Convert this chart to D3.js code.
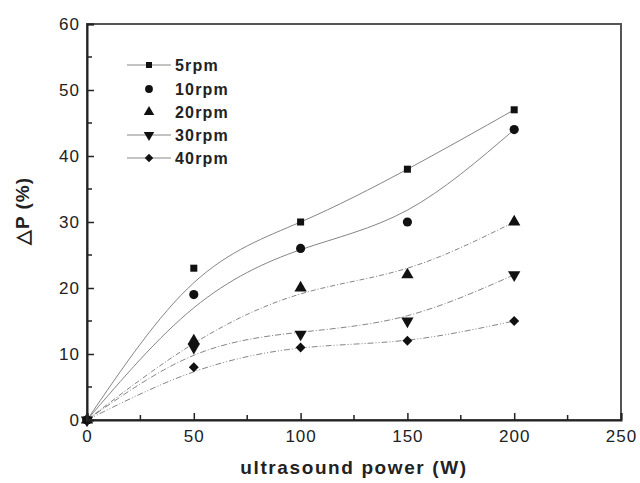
<!DOCTYPE html>
<html>
<head>
<meta charset="utf-8">
<script src="https://cdn.jsdelivr.net/npm/d3@7"></script>
<style>
  body { margin: 0; background: #fff; }
  svg { display: block; font-family: "Liberation Sans", Arial, sans-serif; }
</style>
</head>
<body>
<svg width="640" height="483"></svg>
<script>
// measured data
var power = [0, 50, 100, 150, 200];
var seriesNames = ["5rpm", "10rpm", "20rpm", "30rpm", "40rpm"];
var rpm5 = [0, 23, 30, 38, 47];
var rpm10 = [0, 19, 26, 30, 44];
var rpm20 = [0, 12, 20, 22, 30];
var rpm30 = [0, 11, 13, 15, 22];
var rpm40 = [0, 8, 11, 12, 15];
// fitted curves
var fit5 = [0, 20.8, 30, 38, 47];
var fit10 = [0, 17, 25.8, 31.8, 44];
var fit20 = [0, 11.6, 19.1, 23, 30];
var fit30 = [0, 9.8, 13.3, 15.8, 22];
var fit40 = [0, 7.3, 10.9, 12.1, 15];
var xTicks = [0, 50, 100, 150, 200, 250];
var yTicks = [0, 10, 20, 30, 40, 50, 60];

var svg = d3.select("svg");
var pLeft = 87, pTop = 24, pRight = 621, pBottom = 420;

var x = d3.scaleLinear().domain([0, 250]).range([pLeft, pRight]);
var y = d3.scaleLinear().domain([0, 60]).range([pBottom, pTop]);

var points = [rpm5, rpm10, rpm20, rpm30, rpm40];
var fits = [fit5, fit10, fit20, fit30, fit40];
var dashes = [null, null, "5,2,1,2", "6,2,1,2", "6,2,1,2,1,2"];
var legendLine = [true, false, false, true, true];

function marker(i, size) {
  var g = d3.symbol();
  if (i == 0) return { path: g.type(d3.symbolSquare).size(size * 0.75)(), rot: 0 };
  if (i == 1) return { path: g.type(d3.symbolCircle).size(size)(), rot: 0 };
  if (i == 2) return { path: g.type(d3.symbolTriangle).size(size)(), rot: 0 };
  if (i == 3) return { path: g.type(d3.symbolTriangle).size(size)(), rot: 180 };
  return { path: g.type(d3.symbolSquare).size(size * 0.75)(), rot: 45 };
}

// fitted curves
var line = d3.line()
  .x(function(d) { return x(d[0]); })
  .y(function(d) { return y(d[1]); })
  .curve(d3.curveNatural);

fits.forEach(function(f, i) {
  svg.append("path")
    .attr("d", line(power.map(function(p, j) { return [p, f[j]]; })))
    .attr("fill", "none")
    .attr("stroke", "#777")
    .attr("stroke-width", 0.9)
    .attr("stroke-dasharray", dashes[i]);
});

// markers
points.forEach(function(s, i) {
  var m = marker(i, 66);
  svg.append("g").selectAll("path").data(s).enter().append("path")
    .attr("d", m.path)
    .attr("transform", function(d, j) {
      return "translate(" + x(power[j]) + "," + y(d) + ") rotate(" + m.rot + ")";
    })
    .attr("fill", "#111");
});

// frame
svg.append("rect")
  .attr("x", pLeft).attr("y", pTop)
  .attr("width", pRight - pLeft).attr("height", pBottom - pTop)
  .attr("fill", "none").attr("stroke", "#555").attr("stroke-width", 2);

// axes with inward ticks
var xAxis = d3.axisBottom(x).tickValues(xTicks).tickSize(-7).tickPadding(10);
var gx = svg.append("g").attr("transform", "translate(0," + pBottom + ")").call(xAxis);
var yAxis = d3.axisLeft(y).tickValues(yTicks).tickSize(-7).tickPadding(7);
var gy = svg.append("g").attr("transform", "translate(" + pLeft + ",0)").call(yAxis);

[gx, gy].forEach(function(g) {
  g.select(".domain").attr("stroke", "#222").attr("stroke-width", 2);
  g.selectAll(".tick line").attr("stroke", "#222").attr("stroke-width", 1.5);
  g.selectAll(".tick text")
    .attr("fill", "#222")
    .style("font-size", "17px")
    .style("letter-spacing", "1px")
    .style("font-family", "Liberation Sans, Arial, sans-serif");
});
gx.selectAll(".tick text").attr("y", 10);

// minor ticks
var xMinor = d3.range(25, 250, 50);
var yMinor = d3.range(5, 60, 10);
svg.append("g").selectAll("line").data(xMinor).enter().append("line")
  .attr("x1", function(d) { return x(d); }).attr("x2", function(d) { return x(d); })
  .attr("y1", pBottom).attr("y2", pBottom - 5)
  .attr("stroke", "#222").attr("stroke-width", 1.5);
svg.append("g").selectAll("line").data(yMinor).enter().append("line")
  .attr("x1", pLeft).attr("x2", pLeft + 5)
  .attr("y1", function(d) { return y(d); }).attr("y2", function(d) { return y(d); })
  .attr("stroke", "#222").attr("stroke-width", 1.5);

// legend
var legY = [65, 89, 112, 135, 158];
seriesNames.forEach(function(name, i) {
  var g = svg.append("g").attr("transform", "translate(0," + legY[i] + ")");
  if (legendLine[i]) {
    g.append("line").attr("x1", 127).attr("x2", 171).attr("y1", 0).attr("y2", 0)
      .attr("stroke", "#888").attr("stroke-width", 1);
  }
  var m = marker(i, 48);
  g.append("path").attr("d", m.path)
    .attr("transform", "translate(149,0) rotate(" + m.rot + ")")
    .attr("fill", "#111");
  g.append("text").attr("x", 175).attr("y", 0).attr("dy", "0.36em")
    .style("font-size", "16px").style("font-weight", "bold")
    .style("letter-spacing", "1.2px")
    .attr("fill", "#222").text(name);
});

// axis titles
svg.append("text")
  .attr("x", 354).attr("y", 474)
  .attr("text-anchor", "middle")
  .style("font-size", "19px").style("font-weight", "bold")
  .style("letter-spacing", "1.6px")
  .attr("fill", "#222")
  .text("ultrasound power (W)");

svg.append("text")
  .attr("transform", "translate(29,211) rotate(-90)")
  .attr("text-anchor", "middle")
  .style("font-size", "19px").style("font-weight", "bold")
  .style("letter-spacing", "1px")
  .attr("fill", "#222")
  .text("△P (%)");
</script>
</body>
</html>
